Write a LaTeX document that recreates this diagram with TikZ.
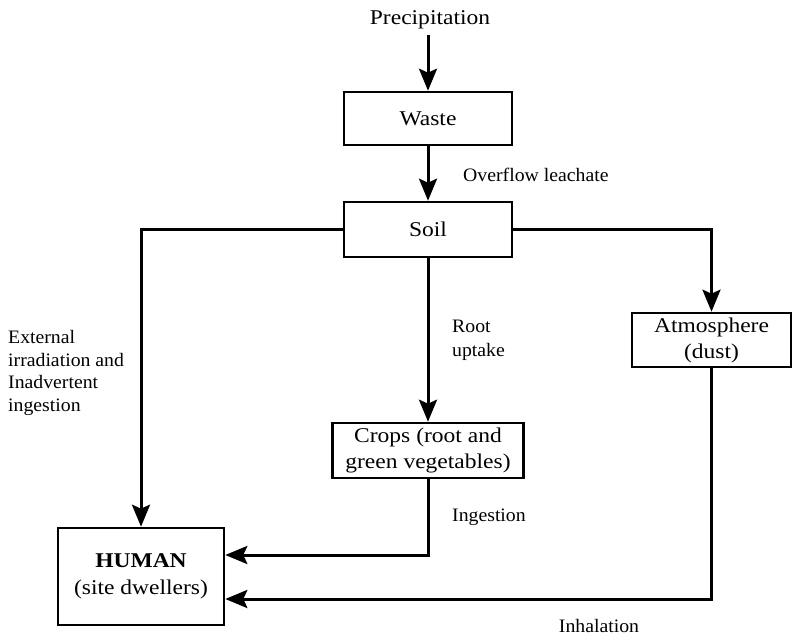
\documentclass[tikz,border=0pt]{standalone}
\usepackage{fontspec}
\setmainfont{Liberation Serif}
\newfontfamily\boxfont{Liberation Serif}[FakeStretch=1.12]
\newfontfamily\labfont{Liberation Serif}[FakeStretch=1.04]
\usetikzlibrary{arrows.meta}
\begin{document}
\begin{tikzpicture}[x=1pt,y=1pt,
  box/.style={draw=black, line width=2.6pt, rectangle, align=center, inner sep=0pt,
    font=\boxfont\fontsize{21}{26}\selectfont},
  lab/.style={font=\labfont\fontsize{19}{23}\selectfont, align=left, inner sep=0pt, anchor=west},
  conn/.style={line width=3pt},
  arr/.style={conn, -{Stealth[length=22pt,width=18pt,inset=4pt]}}]
\useasboundingbox (0,0) rectangle (792,-637);
% nodes
\node[font=\boxfont\fontsize{21}{26}\selectfont, inner sep=0pt] (precip) at (430,-20) {Precipitation};
\node[box, minimum width=168, minimum height=53] (waste) at (428,-118.5) {Waste};
\node[box, minimum width=168, minimum height=55] (soil) at (428,-229.5) {Soil};
\node[box, minimum width=159, minimum height=54] (atm) at (711.5,-340) {Atmosphere\\(dust)};
\node[box, minimum width=191, minimum height=55] (crops) at (428,-450.5) {Crops (root and\\green vegetables)};
\node[box, minimum width=166, minimum height=97, font=\boxfont\fontsize{21}{27}\selectfont] (human) at (141,-576.5) {\textbf{HUMAN}\\(site dwellers)};
% labels
\node[lab] (l1) at (463,-175) {Overflow leachate};
\node[lab, font=\labfont\fontsize{19}{22.5}\selectfont] (l2) at (8,-373) {External\\irradiation and\\Inadvertent\\ingestion};
\node[lab, font=\labfont\fontsize{19}{24}\selectfont] (l3) at (452,-340) {Root\\uptake};
\node[lab] (l4) at (452,-517) {Ingestion};
\node[lab, anchor=center] (l5) at (599,-626) {Inhalation};
% connectors
\coordinate (pstart) at ([yshift=-6pt]waste.north |- precip.south);
\draw[arr] (pstart) -- (waste.north);
\draw[arr] (waste.south) -- (soil.north);
\draw[arr] (soil.west) -| (human.north);
\draw[arr] (soil.east) -| (atm.north);
\draw[arr] (soil.south) -- (crops.north);
\draw[arr] (crops.south) |- ([yshift=21.5pt]human.east);
\draw[arr] (atm.south) |- ([yshift=-22.5pt]human.east);
\end{tikzpicture}
\end{document}
